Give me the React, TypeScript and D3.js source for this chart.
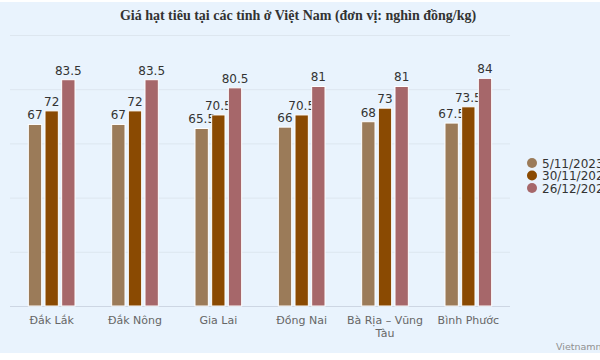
import { scaleBand, scaleLinear } from "d3";

const categories = ["Đắk Lắk", "Đắk Nông", "Gia Lai", "Đồng Nai", "Bà Rịa – Vũng Tàu", "Bình Phước"];
const seriesNames = ["5/11/2023", "30/11/2023", "26/12/2023"];
const valuesNov5 = [67, 67, 65.5, 66, 68, 67.5];
const valuesNov30 = [72, 72, 70.5, 70.5, 73, 73.5];
const valuesDec26 = [83.5, 83.5, 80.5, 81, 81, 84];
const yTicks = [0, 20, 40, 60, 80, 100];

const seriesValues = [valuesNov5, valuesNov30, valuesDec26];
const colors = ["#9b7b59", "#8a4a02", "#a6676a"];

// wrap long axis labels onto two lines like the original
function wrapLabel(label: string) {
  if (label.length <= 12) return [label];
  const words = label.split(" ");
  return [words.slice(0, -1).join(" "), words[words.length - 1]];
}

export default function App() {
  const width = 600;
  const height = 360;
  const plotLeft = 10;
  const plotRight = 510;
  const plotTop = 35;
  const plotBottom = 306;

  const x0 = scaleBand<string>().domain(categories).range([plotLeft, plotRight]);
  const bw = x0.bandwidth();
  const x1 = scaleBand<string>()
    .domain(seriesNames)
    .range([bw * 0.2, bw * 0.8])
    .paddingInner(0.2)
    .paddingOuter(0.1);
  const y = scaleLinear().domain([0, 100]).range([plotBottom, plotTop]);

  const sans = "'DejaVu Sans', Verdana, sans-serif";

  return (
    <div style={{ position: "fixed", left: 0, top: 0 }}>
      <svg width={width} height={height} style={{ display: "block" }}>
        <rect x={0} y={0} width={width} height={height} fill="#ffffff" />
        <rect x={0} y={2} width={width} height={351} fill="#e9f3fd" />

        <text
          x={298}
          y={20}
          textAnchor="middle"
          fontFamily="'Liberation Serif', 'Times New Roman', serif"
          fontWeight="bold"
          fontSize="14"
          fill="#333333"
        >
          Giá hạt tiêu tại các tỉnh ở Việt Nam (đơn vị: nghìn đồng/kg)
        </text>

        {yTicks.map((t) => (
          <line
            key={t}
            x1={plotLeft}
            x2={plotRight}
            y1={y(t) + 0.5}
            y2={y(t) + 0.5}
            stroke={t === 0 ? "#cdd6e3" : "#dde6ef"}
            strokeWidth={1}
          />
        ))}

        {categories.map((cat, ci) => (
          <g key={cat} transform={`translate(${x0(cat)},0)`}>
            {seriesNames.map((s, si) => {
              const v = seriesValues[si][ci];
              const bx = x1(s) ?? 0;
              return (
                <g key={s}>
                  <rect
                    x={bx}
                    y={y(v)}
                    width={x1.bandwidth()}
                    height={y(0) - y(v)}
                    fill={colors[si]}
                    stroke="#ffffff"
                    strokeWidth={1}
                  />
                  <text
                    x={bx + x1.bandwidth() / 2}
                    y={y(v) - 5}
                    textAnchor="middle"
                    fontFamily={sans}
                    fontSize="12"
                    fill="#333333"
                  >
                    {v}
                  </text>
                </g>
              );
            })}
            <text
              x={bw / 2}
              y={324}
              textAnchor="middle"
              fontFamily={sans}
              fontSize="11"
              fill="#666666"
            >
              {wrapLabel(cat).map((line, li) => (
                <tspan key={li} x={bw / 2} dy={li === 0 ? 0 : 13}>
                  {line}
                </tspan>
              ))}
            </text>
          </g>
        ))}

        {seriesNames.map((s, si) => (
          <g key={s} transform={`translate(532,${163 + si * 12.5})`}>
            <circle cx={0} cy={0} r={5} fill={colors[si]} />
            <text x={10} y={4.5} fontFamily={sans} fontSize="12" fill="#333333">
              {s}
            </text>
          </g>
        ))}

        <text x={556} y={350} fontFamily={sans} fontSize="9.5" fill="#909090">
          Vietnamnet.vn
        </text>
      </svg>
    </div>
  );
}
